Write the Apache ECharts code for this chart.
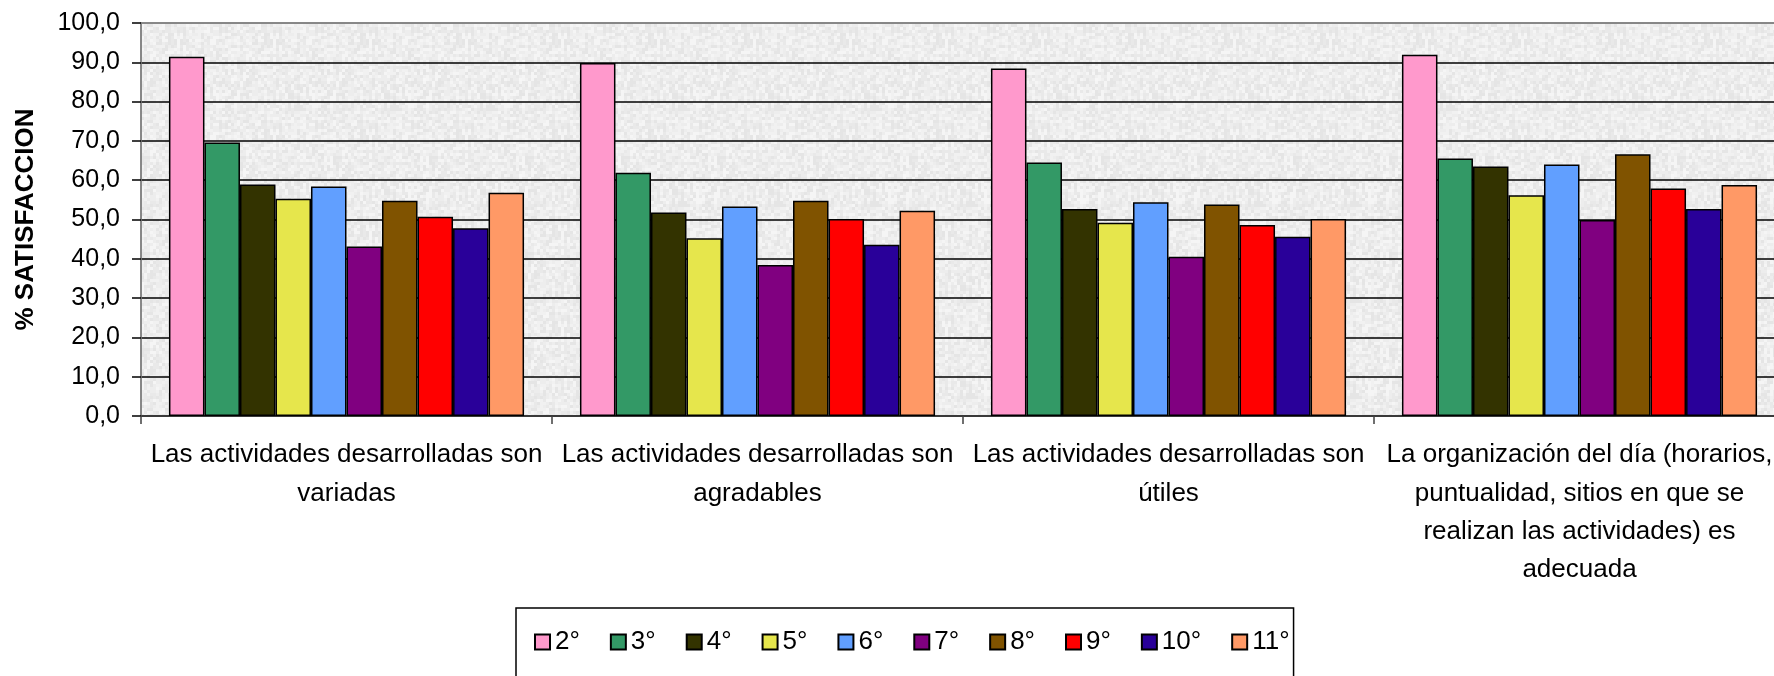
<!DOCTYPE html>
<html>
<head>
<meta charset="utf-8">
<script src="https://cdn.jsdelivr.net/npm/echarts@6/dist/echarts.min.js"></script>
<style>
html,body{margin:0;padding:0;background:#fff;}
#chart{width:1774px;height:676px;}
</style>
</head>
<body>
<div id="chart"></div>
<script>
var categories = [
  'Las actividades desarrolladas son\nvariadas',
  'Las actividades desarrolladas son\nagradables',
  'Las actividades desarrolladas son\nútiles',
  'La organización del día (horarios,\npuntualidad, sitios en que se\nrealizan las actividades) es\nadecuada'
];
var seriesNames = ['2°', '3°', '4°', '5°', '6°', '7°', '8°', '9°', '10°', '11°'];
var s2  = [91.4, 89.8, 88.4, 91.9];
var s3  = [69.6, 61.9, 64.5, 65.5];
var s4  = [58.9, 51.8, 52.7, 63.5];
var s5  = [55.3, 45.2, 49.2, 56.2];
var s6  = [58.4, 53.3, 54.4, 64.0];
var s7  = [43.1, 38.4, 40.5, 49.9];
var s8  = [54.8, 54.8, 53.8, 66.6];
var s9  = [50.7, 50.1, 48.6, 57.9];
var s10 = [47.8, 43.6, 45.6, 52.7];
var s11 = [56.8, 52.2, 50.1, 58.8];
var seriesValues = [s2, s3, s4, s5, s6, s7, s8, s9, s10, s11];
var colors = ['#FF99CC', '#339966', '#333300', '#E6E64C', '#619FFF', '#800080', '#805300', '#FF0000', '#290099', '#FF9966'];
var yAxisTitle = '% SATISFACCION';

var FONT = '"Liberation Sans", Arial, sans-serif';

// granite-like background texture (deterministic hash, purely decorative)
function makeTexture() {
  var c = document.createElement('canvas');
  c.width = 96; c.height = 96;
  var g = c.getContext('2d');
  for (var y = 0; y < 32; y++) {
    for (var x = 0; x < 32; x++) {
      var h = ((x * 374761393 + y * 668265263) ^ (x * y * 2246822519)) >>> 0;
      h = ((h ^ (h >>> 13)) * 1274126177) >>> 0;
      var v = 229 + (h % 20);
      g.fillStyle = 'rgb(' + v + ',' + v + ',' + v + ')';
      g.fillRect(x * 3, y * 3, 3, 3);
    }
  }
  return c;
}

var chart = echarts.init(document.getElementById('chart'));

var splitColors = [];
for (var i = 0; i < 10; i++) splitColors.push('#000000');
splitColors.push('#808080');

var series = seriesNames.map(function (name, i) {
  return {
    name: name,
    type: 'bar',
    data: seriesValues[i],
    barGap: '0%',
    barCategoryGap: '13.6%',
    itemStyle: { color: colors[i], borderColor: '#000000', borderWidth: 1.5 },
    emphasis: { disabled: true }
  };
});

chart.setOption({
  animation: false,
  textStyle: { fontFamily: FONT },
  grid: {
    left: 141, top: 23, right: -11, bottom: 260,
    show: true,
    backgroundColor: { image: makeTexture(), repeat: 'repeat' },
    borderColor: '#808080',
    borderWidth: 1.5,
    containLabel: false,
    outerBoundsMode: 'none'
  },
  legend: {
    data: seriesNames,
    left: 516, top: 608,
    orient: 'horizontal',
    padding: [21, 4, 60, 18],
    borderColor: '#000000',
    borderWidth: 1.5,
    backgroundColor: '#FFFFFF',
    itemWidth: 15, itemHeight: 15,
    itemGap: 30,
    icon: 'rect',
    textStyle: { fontSize: 26, color: '#000000', fontFamily: FONT },
    selectedMode: false
  },
  xAxis: {
    type: 'category',
    data: categories,
    axisLine: { lineStyle: { color: '#404040', width: 1.5 } },
    axisTick: { show: true, length: 8, lineStyle: { color: '#404040', width: 1.5 } },
    axisLabel: {
      interval: 0,
      margin: 20,
      fontSize: 26,
      lineHeight: 38.3,
      color: '#000000',
      fontFamily: FONT
    }
  },
  yAxis: {
    type: 'value',
    min: 0, max: 100, interval: 10,
    name: yAxisTitle,
    nameLocation: 'middle',
    nameRotate: 90,
    nameGap: 102,
    nameTextStyle: { fontSize: 26, fontWeight: 'bold', color: '#000000', fontFamily: FONT },
    axisLine: { show: true, lineStyle: { color: '#808080', width: 1.5 } },
    axisTick: { show: true, length: 9, lineStyle: { color: '#000000', width: 1.5 } },
    axisLabel: {
      margin: 21,
      fontSize: 25,
      color: '#000000',
      fontFamily: FONT,
      formatter: function (v) { return v.toFixed(1).replace('.', ','); }
    },
    splitLine: { show: true, lineStyle: { color: splitColors, width: 1.5 } }
  },
  series: series
});
</script>
</body>
</html>
